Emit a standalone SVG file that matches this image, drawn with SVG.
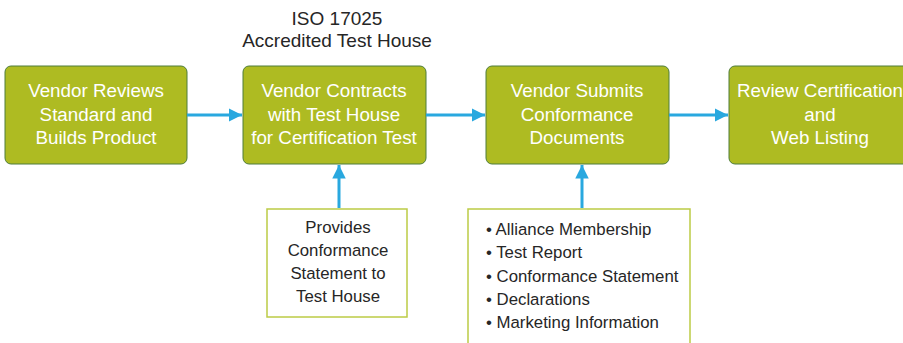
<svg xmlns="http://www.w3.org/2000/svg" width="903" height="343" viewBox="0 0 903 343">
<defs>
<style>
.box{fill:#AEBB22;stroke:#4E7D3A;stroke-width:1}
.note{fill:#ffffff;stroke:#BCCB45;stroke-width:1.5}
.wt{font-family:"Liberation Sans",Arial,sans-serif;font-size:18.8px;fill:#ffffff;text-anchor:middle}
.dt{font-family:"Liberation Sans",Arial,sans-serif;font-size:16.8px;fill:#262626}
.tt{font-family:"Liberation Sans",Arial,sans-serif;font-size:19px;fill:#262626;text-anchor:middle}
.con{stroke:#29A8DF;stroke-width:3;fill:none}
</style>
<marker id="ah" viewBox="0 0 10 10" refX="10" refY="5" markerWidth="4.5" markerHeight="4.5" markerUnits="strokeWidth" orient="auto">
<path d="M0,0 L10,5 L0,10 z" fill="#29A8DF"/>
</marker>
</defs>
<rect width="903" height="343" fill="#ffffff"/>
<g id="title">
<text class="tt" x="337" y="25">ISO 17025</text>
<text class="tt" x="337" y="47">Accredited Test House</text>
</g>
<g id="node1">
<rect class="box" x="5" y="66" width="182" height="98" rx="6"/>
<text class="wt" x="96" y="97">Vendor Reviews</text>
<text class="wt" x="96" y="121">Standard and</text>
<text class="wt" x="96" y="144">Builds Product</text>
</g>
<g id="node2">
<rect class="box" x="243" y="66" width="183" height="98" rx="6"/>
<text class="wt" x="334" y="97">Vendor Contracts</text>
<text class="wt" x="334" y="121">with Test House</text>
<text class="wt" x="334" y="144">for Certification Test</text>
</g>
<g id="node3">
<rect class="box" x="486" y="66" width="183" height="98" rx="6"/>
<text class="wt" x="577" y="97">Vendor Submits</text>
<text class="wt" x="577" y="121">Conformance</text>
<text class="wt" x="577" y="144">Documents</text>
</g>
<g id="node4">
<rect class="box" x="729" y="66" width="183" height="98" rx="6"/>
<text class="wt" x="820" y="97">Review Certification</text>
<text class="wt" x="820" y="121">and</text>
<text class="wt" x="820" y="144">Web Listing</text>
</g>
<g id="node5">
<rect class="note" x="267" y="209" width="140" height="108"/>
<text class="dt" x="338" y="233" text-anchor="middle">Provides</text>
<text class="dt" x="338" y="256" text-anchor="middle">Conformance</text>
<text class="dt" x="338" y="279" text-anchor="middle">Statement to</text>
<text class="dt" x="338" y="302" text-anchor="middle">Test House</text>
</g>
<g id="node6">
<rect class="note" x="468" y="209" width="222" height="150"/>
<text class="dt" x="486" y="235">• Alliance Membership</text>
<text class="dt" x="486" y="258">• Test Report</text>
<text class="dt" x="486" y="282">• Conformance Statement</text>
<text class="dt" x="486" y="305">• Declarations</text>
<text class="dt" x="486" y="328">• Marketing Information</text>
</g>
<g id="connectors">
<line class="con" x1="187" y1="115" x2="242" y2="115" marker-end="url(#ah)"/>
<line class="con" x1="426" y1="115" x2="485" y2="115" marker-end="url(#ah)"/>
<line class="con" x1="669" y1="115" x2="728" y2="115" marker-end="url(#ah)"/>
<line class="con" x1="339" y1="208" x2="339" y2="165" marker-end="url(#ah)"/>
<line class="con" x1="582" y1="208" x2="582" y2="165" marker-end="url(#ah)"/>
</g>
</svg>
